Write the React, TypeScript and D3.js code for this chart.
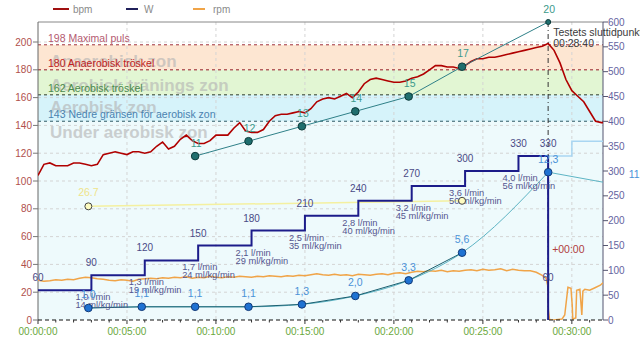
import React from 'react';
import * as d3 from 'd3';

// ---------- DATA ----------
// heart rate, one value every 20 s starting at 00:00:00
const hrBpm = [
  104, 112, 113, 111, 111, 111, 113, 113, 112, 111,
  112, 119, 120, 121, 120, 119, 121, 121, 120, 121,
  125, 128, 123, 125, 130, 133, 129, 127, 127, 129,
  133, 133, 133, 138, 142, 136, 135, 135, 137, 143,
  147, 148, 148, 149, 150, 149, 152, 157, 159, 160,
  159, 161, 163, 160, 164, 170, 173, 174, 173, 172,
  171, 171, 172, 174, 175, 177, 180, 183, 183, 182,
  182, 181, 183, 186, 188, 188, 189, 189, 190, 191,
  192, 193, 194, 195, 196, 197, 199, 194, 185, 173,
  165, 161, 157, 150, 143, 142, 142,
];
// cadence (rpm), one value every 20 s starting at 00:00:00
const cadenceRpm = [
  80, 78, 79, 81, 80, 82, 81, 84, 86, 85,
  83, 82, 80, 79, 81, 80, 78, 82, 83, 84,
  83, 85, 84, 86, 85, 87, 84, 86, 85, 88,
  86, 85, 87, 86, 88, 87, 86, 88, 87, 89,
  88, 87, 89, 88, 90, 89, 91, 93, 91, 90,
  92, 90, 91, 89, 92, 91, 90, 92, 93, 91,
  94, 95, 93, 96, 98, 97, 99, 98, 100, 97,
  99, 98, 100, 101, 99, 102, 100, 101, 103, 99,
  102, 100, 99, 99, 96, 90,
];
// cadence after the end of the test (minutes, rpm)
const cadenceAfterMin = [28.55, 28.64, 28.68, 28.75, 29.0, 29.45, 29.6, 29.78, 29.95, 30.02, 30.05, 30.22, 30.27, 30.45, 30.52, 30.56, 30.62, 30.73, 31.0, 31.3, 31.6, 31.75];
const cadenceAfterRpm = [84, 70, 20, 0, 0, 2, 10, 66, 64, 30, 2, 4, 60, 62, 30, 10, 58, 62, 60, 65, 70, 75];

// power steps (minutes, watts)
const stepStartMin = [0, 3, 6, 9, 12, 15, 18, 21, 24, 27];
const stepWatts = [60, 90, 120, 150, 180, 210, 240, 270, 300, 330];
const testEndMin = 28 + 40 / 60;
const testEndLabel = '00:28:40';
// planned load after the test
const afterMin = [28 + 40 / 60, 30, 31.75];
const afterWatts = [330, 360, 360];

// VO2 at each step change
const vo2Abs = ['1,0', '1,3', '1,7', '2,1', '2,5', '2,8', '3,2', '3,6', '4,0'];
const vo2Rel = [14, 19, 24, 29, 35, 40, 45, 50, 56];
const vo2AtMin = [3, 6, 9, 12, 15, 18, 21, 24, 27];

// lactate (mmol/l)
const lactateMin = [2.83, 5.83, 8.83, 11.83, 14.83, 17.83, 20.83, 23.83, 28.67, 33.5];
const lactateVal = [1.0, 1.1, 1.1, 1.1, 1.3, 2.0, 3.3, 5.6, 12.3, 11];
const lactateLabels = ['1,0', '1,1', '1,1', '1,1', '1,3', '2,0', '3,3', '5,6', '12,3', '11'];

// Borg RPE
const rpeMin = [8.83, 11.83, 14.83, 17.83, 20.83, 23.83, 28.67];
const rpeVal = [11, 12, 13, 14, 15, 17, 20];

// yellow series
const yellowMin = [2.83, 23.83];
const yellowVal = [26.7, 28];
const yellowLabel = '26.7';

// heart-rate zones
const zoneLimits = [143, 162, 180, 198];
const zoneLineLabels = [
  '143 Nedre gränsen för aerobisk zon',
  '162 Aerobisk tröskel',
  '180 Anaerobisk tröskel',
  '198 Maximal puls',
];
const zoneNames = ['Under aerobisk zon', 'Aerobisk zon', 'Aerobisk tränings zon', 'Anaerobisk zon'];

const bpmTicks = [0, 20, 40, 60, 80, 100, 120, 140, 160, 180, 200];
const wattTicks = [0, 50, 100, 150, 200, 250, 300, 350, 400, 450, 500, 550, 600];
const timeTicks = [0, 5, 10, 15, 20, 25, 30];

// ---------- STYLE ----------
const FONT = 'Liberation Sans, Arial, sans-serif';
const L = 38, R = 603, T = 22, B = 320;

const zoneFills = ['#eefafc', '#d6f3fa', '#e2f6d3', '#fde6d2', '#ffffff'];
const zoneLineColors = ['#2f5a66', '#2a3a2a', '#a02424', '#a0303a'];
const zoneLabelColors = ['#4a82b0', '#4c8a4c', '#c02222', '#b45a70'];
const zoneNameOffsets = [17, 18, 21, 22];

export default function App() {
  const x = d3.scaleLinear().domain([0, 31.75]).range([L, R]);
  const yBpm = d3.scaleLinear().domain([0, 214.4]).range([B, T]);
  const yW = d3.scaleLinear().domain([0, 600]).range([B, T]);
  const yRpe = d3.scaleLinear().domain([0, 20]).range([B, T]);
  const yLac = d3.scaleLinear().domain([0, 24.8]).range([B, T]);
  const yY = d3.scaleLinear().domain([0, 70]).range([B, T]);

  const hrPts: [number, number][] = hrBpm.map((v, i) => [i / 3, v]);
  const hrPath = d3.line<[number, number]>().x(d => x(d[0])).y(d => yBpm(d[1]))(hrPts) || '';

  const cadPts: [number, number][] = cadenceRpm.map((v, i) => [i / 3, v] as [number, number])
    .concat(cadenceAfterMin.map((t, i) => [t, cadenceAfterRpm[i]] as [number, number]));
  const cadPath = d3.line<[number, number]>().x(d => x(d[0])).y(d => yW(d[1]))(cadPts) || '';

  const wPts: [number, number][] = stepStartMin.map((t, i) => [t, stepWatts[i]] as [number, number]);
  wPts.push([testEndMin, stepWatts[stepWatts.length - 1]]);
  wPts.push([testEndMin, 0]);
  const wPath = d3.line<[number, number]>().x(d => x(d[0])).y(d => yW(d[1])).curve(d3.curveStepAfter)(wPts) || '';

  const afterPts: [number, number][] = afterMin.map((t, i) => [t, afterWatts[i]]);
  const afterPath = d3.line<[number, number]>().x(d => x(d[0])).y(d => yW(d[1])).curve(d3.curveStepAfter)(afterPts) || '';

  const lacPts: [number, number][] = lactateMin.map((t, i) => [t, lactateVal[i]]);
  const lacCurve = d3.line<[number, number]>().x(d => x(d[0])).y(d => yLac(d[1])).curve(d3.curveMonotoneX)(lacPts.slice(0, 9)) || '';
  const lacTail = d3.line<[number, number]>().x(d => x(d[0])).y(d => yLac(d[1]))(lacPts.slice(8)) || '';
  const lacStraight = d3.line<[number, number]>().x(d => x(d[0])).y(d => yLac(d[1]))(lacPts.slice(0, 8)) || '';

  const rpePts: [number, number][] = rpeMin.map((t, i) => [t, rpeVal[i]]);
  const rpePath = d3.line<[number, number]>().x(d => x(d[0])).y(d => yRpe(d[1]))(rpePts) || '';

  const yelPts: [number, number][] = yellowMin.map((t, i) => [t, yellowVal[i]]);
  const yelPath = d3.line<[number, number]>().x(d => x(d[0])).y(d => yY(d[1]))(yelPts) || '';

  const bounds = [0, ...zoneLimits, 214.4];
  const fmtTime = (m: number) => `00:${String(m).padStart(2, '0')}:00`;
  const minorTicks = d3.range(0, 32, 1);

  return (
    <svg width={640} height={353} style={{ position: 'absolute', left: 0, top: 0, background: '#fff' }} fontFamily={FONT}>
      <defs>
        <clipPath id="plot">
          <rect x={L} y={T} width={R - L} height={B - T} />
        </clipPath>
      </defs>

      {/* legend */}
      <g fontSize={10} fill="#8a8a8a">
        <line x1={53} x2={69} y1={9} y2={9} stroke="#a01010" strokeWidth={2} />
        <text x={73} y={13}>bpm</text>
        <line x1={126} x2={138} y1={9} y2={9} stroke="#20205a" strokeWidth={2} />
        <text x={144} y={13}>W</text>
        <line x1={193} x2={205} y1={9} y2={9} stroke="#f0a448" strokeWidth={2} />
        <text x={213} y={13}>rpm</text>
      </g>

      {/* zones */}
      {bounds.slice(0, -1).map((b, i) => (
        <rect key={'z' + i} x={L} width={R - L} y={yBpm(bounds[i + 1])} height={yBpm(b) - yBpm(bounds[i + 1])} fill={zoneFills[i]} />
      ))}

      {/* grid */}
      {bpmTicks.filter(t => t > 0).map(t => (
        <line key={'gh' + t} x1={L} x2={R} y1={yBpm(t)} y2={yBpm(t)} stroke="#d4d4d4" strokeDasharray="3,3" />
      ))}
      {timeTicks.filter(t => t > 0).map(t => (
        <line key={'gv' + t} x1={x(t)} x2={x(t)} y1={T} y2={B} stroke="#d4d4d4" strokeDasharray="3,3" />
      ))}

      {/* big zone names */}
      <g fontSize={17} fontWeight="bold" fill="#b4b4b4" opacity={0.62}>
        {zoneNames.map((n, i) => (
          <text key={'zn' + i} x={50} y={yBpm(zoneLimits[i]) + zoneNameOffsets[i]}>{n}</text>
        ))}
      </g>
      {/* zone limit lines & labels */}
      {zoneLimits.map((z, i) => (
        <g key={'zl' + i}>
          <line x1={L} x2={R} y1={yBpm(z)} y2={yBpm(z)} stroke={zoneLineColors[i]} strokeDasharray="3,3" />
          <text x={48} y={yBpm(z) - 3} fontSize={10.5} fill={zoneLabelColors[i]}>{zoneLineLabels[i]}</text>
        </g>
      ))}

      {/* plot frame */}
      <line x1={L} x2={R} y1={T} y2={T} stroke="#888" />
      <line x1={L} x2={L} y1={T} y2={B} stroke="#666" />
      <line x1={R} x2={R} y1={T} y2={B} stroke="#555570" />

      <g clipPath="url(#plot)">
        {/* cadence */}
        <path d={cadPath} fill="none" stroke="#f0a448" strokeWidth={1.5} />
        {/* planned load after test */}
        <path d={afterPath} fill="none" stroke="#a9d6f2" strokeWidth={1.5} />
        {/* yellow */}
        <path d={yelPath} fill="none" stroke="#f4f0a0" strokeWidth={1.5} />
        {/* lactate */}
        <path d={lacCurve} fill="none" stroke="#5db4c4" strokeWidth={1} />
        <path d={lacTail} fill="none" stroke="#5db4c4" strokeWidth={1} />
        <path d={lacStraight} fill="none" stroke="#1b5f70" strokeWidth={1} />
        {/* heart rate */}
        <path d={hrPath} fill="none" stroke="#b00000" strokeWidth={1.6} />
        {/* RPE */}
        <path d={rpePath} fill="none" stroke="#2f8088" strokeWidth={1} />
      </g>

      {/* end of test marker line */}
      <line x1={x(testEndMin)} x2={x(testEndMin)} y1={T} y2={B} stroke="#333" strokeDasharray="5,3,1,3" />
      <path d={wPath} fill="none" stroke="#1c1c8a" strokeWidth={2} />

      {/* W labels */}
      <g fontSize={10} fill="#4a4a86" textAnchor="middle">
        {stepStartMin.map((t, i) => (
          <text key={'wl' + i} x={x(t)} y={yW(stepWatts[i]) - 9}>{stepWatts[i]}</text>
        ))}
        <text x={x(testEndMin)} y={yW(stepWatts[stepWatts.length - 1]) - 9}>{stepWatts[stepWatts.length - 1]}</text>
        <text x={x(testEndMin)} y={yW(stepWatts[0]) - 9}>{stepWatts[0]}</text>
      </g>

      {/* VO2 labels */}
      <g fontSize={9.3} fill="#55558e">
        {vo2AtMin.map((t, i) => (
          <g key={'vo' + i}>
            <text x={x(t) - 16} y={yW(stepWatts[i]) + 10}>{vo2Abs[i]} l/min</text>
            <text x={x(t) - 16} y={yW(stepWatts[i]) + 18}>{vo2Rel[i]} ml/kg/min</text>
          </g>
        ))}
      </g>

      {/* yellow markers */}
      {yelPts.map((p, i) => (
        <circle key={'ym' + i} cx={x(p[0])} cy={yY(p[1])} r={3.5} fill="#fdfbc0" stroke="#444" strokeWidth={1} />
      ))}
      <text x={x(yellowMin[0])} y={yY(yellowVal[0]) - 10} fontSize={10.5} fill="#eee48a" textAnchor="middle">{yellowLabel}</text>

      {/* lactate markers & labels */}
      {lacPts.slice(0, 9).map((p, i) => (
        <circle key={'lm' + i} cx={x(p[0])} cy={yLac(p[1])} r={3.8} fill="#1f72d2" stroke="#123a78" strokeWidth={1} />
      ))}
      <g fontSize={10.5} fill="#4a92d8" textAnchor="middle">
        {lacPts.map((p, i) => (
          <text key={'ll' + i} x={x(p[0])} y={yLac(p[1]) - 9.5}>{lactateLabels[i]}</text>
        ))}
      </g>

      {/* RPE markers & labels */}
      {rpePts.map((p, i) => (
        <circle key={'rm' + i} cx={x(p[0])} cy={yRpe(p[1])} r={i === rpePts.length - 1 ? 2.5 : 3.8} fill="#1f6e6e" stroke="#0d3a3a" strokeWidth={1} />
      ))}
      <g fontSize={10.5} fill="#3c9a8c" textAnchor="middle">
        {rpePts.map((p, i) => (
          <text key={'rl' + i} x={x(p[0]) + 1} y={yRpe(p[1]) - 9.5}>{rpeVal[i]}</text>
        ))}
      </g>

      {/* end of test text */}
      <g fontSize={10.5} fill="#3a3a3a">
        <text x={x(testEndMin) + 5} y={36}>Testets sluttidpunkt</text>
        <text x={x(testEndMin) + 5} y={47}>{testEndLabel}</text>
      </g>
      <text x={x(testEndMin) + 4} y={253} fontSize={10.5} fill="#b04040">+00:00</text>

      {/* x axis */}
      <line x1={L} x2={R} y1={B} y2={B} stroke="#111" strokeDasharray="4,3" />
      {minorTicks.map(t => (
        <line key={'mt' + t} x1={x(t)} x2={x(t)} y1={B} y2={B + (t % 5 === 0 ? 4 : 2.5)} stroke="#333" />
      ))}
      <g fontSize={10} fill="#6aa83c" textAnchor="middle">
        {timeTicks.map(t => (
          <text key={'xl' + t} x={x(t)} y={335}>{fmtTime(t)}</text>
        ))}
      </g>

      {/* left axis */}
      <g fontSize={10} fill="#b0504c" textAnchor="end">
        {bpmTicks.map(t => (
          <g key={'lb' + t}>
            <line x1={L - 5} x2={L} y1={yBpm(t)} y2={yBpm(t)} stroke="#777" />
            <text x={L - 6} y={yBpm(t)} dy="0.35em">{t}</text>
          </g>
        ))}
      </g>

      {/* right axis */}
      <g fontSize={10} fill="#6464a0">
        {wattTicks.map(t => (
          <g key={'rb' + t}>
            <line x1={R} x2={R + 5} y1={yW(t)} y2={yW(t)} stroke="#555570" />
            <text x={R + 5} y={yW(t)} dy="0.35em">{t}</text>
          </g>
        ))}
      </g>
    </svg>
  );
}
